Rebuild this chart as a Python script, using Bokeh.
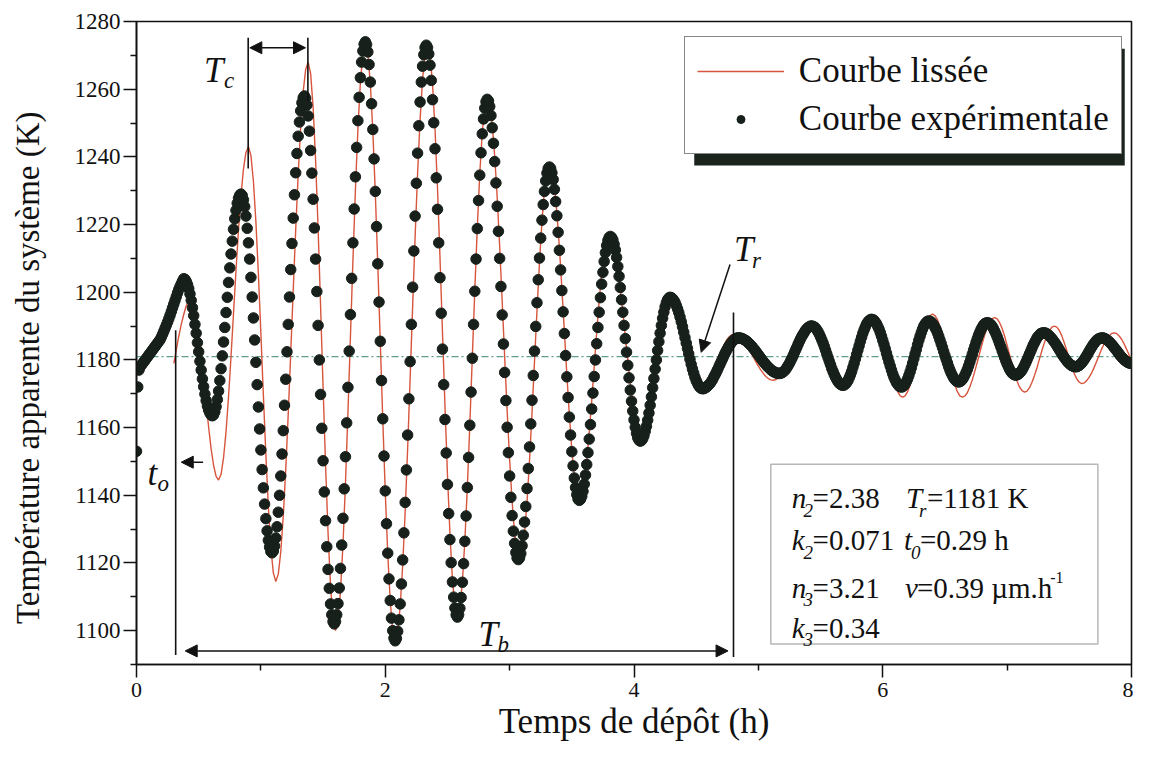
import numpy as np
from bokeh.plotting import figure
from bokeh.models import (Span, Label, Arrow, NormalHead, BoxAnnotation, Legend,
                          LegendItem, FixedTicker)
from bokeh.embed import file_html
from bokeh.resources import INLINE

# ---------------- data ----------------
# experimental points, one every 0.01 h from 0 to 8 h
exp_temp = [
    1153, 1172, 1177, 1178, 1178.5, 1179, 1179.5, 1180, 1180.5, 1181,
    1181.5, 1182, 1182.5, 1183, 1183.5, 1184, 1184.5, 1185, 1185.5, 1186,
    1186.8, 1187.6, 1188.5, 1189.4, 1190.3, 1191.2, 1192.2, 1193.2, 1194.3, 1195.4,
    1196.5, 1197.6, 1198.7, 1199.8, 1200.8, 1201.7, 1202.5, 1203.3, 1204.0,
    1203.8, 1203.2, 1202.3, 1201.1, 1199.5, 1197.6, 1195.4, 1193.1, 1190.5, 1187.9,
    1185.1, 1182.4, 1179.6, 1177.0, 1174.4, 1172.1, 1169.9, 1168.0, 1166.4, 1165.2,
    1164.3, 1163.7, 1163.5,
    1163.8, 1164.7, 1166.2, 1168.3, 1170.8, 1173.9, 1177.4, 1181.2, 1185.3, 1189.6,
    1194.0, 1198.5, 1202.9, 1207.2, 1211.3, 1215.1, 1218.6, 1221.7, 1224.2, 1226.3,
    1227.8, 1228.7, 1229,
    1228.6, 1227.3, 1225.3, 1222.5, 1218.9, 1214.6, 1209.8, 1204.4, 1198.6, 1192.4,
    1185.9, 1179.3, 1172.7, 1166.1, 1159.6, 1153.4, 1147.6, 1142.2, 1137.4, 1133.1,
    1129.5, 1126.7, 1124.7, 1123.4, 1123,
    1123.5, 1125.0, 1127.4, 1130.7, 1135.0, 1140.0, 1145.7, 1152.2, 1159.1, 1166.6,
    1174.3, 1182.4, 1190.5, 1198.6, 1206.7, 1214.4, 1221.9, 1228.8, 1235.3, 1241.0,
    1246.1, 1250.3, 1253.6, 1256.0, 1257.5, 1258,
    1257.3, 1255.3, 1252.1, 1247.6, 1241.9, 1235.2, 1227.5, 1219.0, 1209.8, 1200.2,
    1190.2, 1180.0, 1169.8, 1159.8, 1150.2, 1141.0, 1132.5, 1124.8, 1118.1, 1112.5,
    1107.9, 1104.7, 1102.7, 1102,
    1102.7, 1104.7, 1108.0, 1112.6, 1118.4, 1125.3, 1133.2, 1141.9, 1151.4, 1161.4,
    1171.9, 1182.6, 1193.4, 1204.1, 1214.6, 1224.6, 1234.1, 1242.8, 1250.7, 1257.6,
    1263.4, 1268.0, 1271.3, 1273.3, 1274,
    1273.2, 1271.0, 1267.3, 1262.1, 1255.7, 1248.1, 1239.4, 1229.8, 1219.4, 1208.4,
    1197.1, 1185.5, 1173.9, 1162.6, 1151.6, 1141.3, 1131.6, 1122.9, 1115.3, 1108.9,
    1103.7, 1100.0, 1097.8, 1097,
    1097.7, 1099.8, 1103.2, 1107.9, 1113.8, 1120.9, 1128.9, 1137.9, 1147.5, 1157.8,
    1168.5, 1179.5, 1190.5, 1201.5, 1212.2, 1222.5, 1232.2, 1241.1, 1249.2, 1256.2,
    1262.1, 1266.8, 1270.2, 1272.3, 1273,
    1272.3, 1270.4, 1267.1, 1262.6, 1256.9, 1250.1, 1242.4, 1233.8, 1224.5, 1214.6,
    1204.3, 1193.8, 1183.2, 1172.7, 1162.4, 1152.5, 1143.2, 1134.6, 1126.9, 1120.1,
    1114.4, 1109.9, 1106.7, 1104.7, 1104,
    1104.7, 1106.6, 1109.8, 1114.3, 1119.8, 1126.4, 1133.9, 1142.3, 1151.2, 1160.7,
    1170.5, 1180.5, 1190.5, 1200.3, 1209.8, 1218.8, 1227.1, 1234.6, 1241.2, 1246.8,
    1251.2, 1254.4, 1256.3, 1257,
    1256.5, 1254.9, 1252.2, 1248.6, 1244.0, 1238.6, 1232.3, 1225.4, 1218.0, 1210.0,
    1201.7, 1193.3, 1184.7, 1176.3, 1168.0, 1160.1, 1152.6, 1145.7, 1139.4, 1134.0,
    1129.4, 1125.8, 1123.1, 1121.5, 1121,
    1121.5, 1122.8, 1125.1, 1128.2, 1132.1, 1136.7, 1142.0, 1147.9, 1154.3, 1161.1,
    1168.1, 1175.4, 1182.6, 1189.9, 1196.9, 1203.7, 1210.1, 1216.0, 1221.3, 1225.9,
    1229.8, 1232.9, 1235.2, 1236.6, 1237,
    1236.6, 1235.3, 1233.3, 1230.4, 1226.8, 1222.6, 1217.7, 1212.4, 1206.6, 1200.5,
    1194.2, 1187.8, 1181.3, 1175.0, 1168.9, 1163.1, 1157.8, 1152.9, 1148.7, 1145.1,
    1142.3, 1140.2, 1138.9, 1138.5,
    1138.8, 1139.7, 1141.2, 1143.3, 1146.0, 1149.1, 1152.6, 1156.6, 1160.9, 1165.5,
    1170.2, 1175.1, 1180.0, 1184.8, 1189.6, 1194.1, 1198.4, 1202.4, 1205.9, 1209.1,
    1211.7, 1213.8, 1215.3, 1216.2, 1216.5,
    1216.2, 1215.5, 1214.2, 1212.5, 1210.3, 1207.6, 1204.7, 1201.4, 1197.8, 1194.1,
    1190.2, 1186.3, 1182.3, 1178.4, 1174.7, 1171.1, 1167.8, 1164.9, 1162.3, 1160.1,
    1158.3, 1157.0, 1156.3, 1156,
    1156.2, 1156.7, 1157.6, 1158.9, 1160.4, 1162.2, 1164.3, 1166.6, 1169.1, 1171.8,
    1174.5, 1177.3, 1180.0, 1182.8, 1185.4, 1187.9, 1190.2, 1192.3, 1194.1, 1195.7,
    1196.9, 1197.8, 1198.3, 1198.5,
    1198.4, 1198.1, 1197.6, 1197.0, 1196.1, 1195.1, 1194.0, 1192.7, 1191.3, 1189.8,
    1188.2, 1186.6, 1185.0, 1183.4, 1181.8, 1180.2, 1178.7, 1177.3, 1176.1, 1174.9,
    1173.9, 1173.1, 1172.4, 1171.9, 1171.6, 1171.5,
    1171.5, 1171.7, 1171.9, 1172.2, 1172.6, 1173.0, 1173.5, 1174.1, 1174.8, 1175.5,
    1176.2, 1177.0, 1177.8, 1178.6, 1179.4, 1180.2, 1181.0, 1181.8, 1182.5, 1183.2,
    1183.9, 1184.4, 1185.0, 1185.4, 1185.8, 1186.1, 1186.3, 1186.5, 1186.5,
    1186.5, 1186.4, 1186.3, 1186.1, 1185.9, 1185.7, 1185.4, 1185.0, 1184.7, 1184.3,
    1183.9, 1183.4, 1183.0, 1182.5, 1182.0, 1181.5, 1181.0, 1180.5, 1180.0, 1179.5,
    1179.1, 1178.6, 1178.2, 1177.8, 1177.5, 1177.1, 1176.8, 1176.6, 1176.4, 1176.2,
    1176.1, 1176.0, 1176,
    1176.1, 1176.2, 1176.5, 1176.8, 1177.2, 1177.8, 1178.4, 1179.0, 1179.8, 1180.5,
    1181.3, 1182.2, 1183.0, 1183.8, 1184.7, 1185.5, 1186.3, 1187.0, 1187.6, 1188.2,
    1188.8, 1189.2, 1189.6, 1189.8, 1190.0, 1190,
    1189.9, 1189.7, 1189.4, 1188.9, 1188.3, 1187.6, 1186.8, 1185.9, 1185.0, 1184.0,
    1182.9, 1181.8, 1180.7, 1179.6, 1178.6, 1177.5, 1176.6, 1175.7, 1174.9, 1174.2,
    1173.6, 1173.1, 1172.8, 1172.6, 1172.5,
    1172.6, 1172.9, 1173.3, 1173.9, 1174.7, 1175.6, 1176.6, 1177.8, 1179.0, 1180.3,
    1181.6, 1182.9, 1184.2, 1185.5, 1186.7, 1187.9, 1188.9, 1189.8, 1190.6, 1191.2,
    1191.6, 1191.9, 1192,
    1191.9, 1191.7, 1191.2, 1190.7, 1189.9, 1189.1, 1188.1, 1187.0, 1185.8, 1184.6,
    1183.3, 1182.0, 1180.7, 1179.4, 1178.2, 1177.0, 1175.9, 1174.9, 1174.1, 1173.3,
    1172.8, 1172.3, 1172.1, 1172,
    1172.1, 1172.4, 1172.9, 1173.6, 1174.4, 1175.4, 1176.5, 1177.7, 1179.0, 1180.4,
    1181.8, 1183.1, 1184.5, 1185.8, 1187.0, 1188.1, 1189.1, 1190.0, 1190.6, 1191.1,
    1191.4, 1191.5,
    1191.4, 1191.2, 1190.8, 1190.3, 1189.6, 1188.9, 1188.0, 1187.0, 1185.9, 1184.8,
    1183.7, 1182.5, 1181.3, 1180.2, 1179.1, 1178.0, 1177.0, 1176.1, 1175.4, 1174.7,
    1174.2, 1173.8, 1173.6, 1173.5,
    1173.6, 1173.8, 1174.2, 1174.8, 1175.5, 1176.3, 1177.2, 1178.2, 1179.3, 1180.5,
    1181.7, 1182.9, 1184.0, 1185.2, 1186.3, 1187.3, 1188.2, 1189.0, 1189.7, 1190.3,
    1190.7, 1190.9, 1191,
    1190.9, 1190.7, 1190.4, 1189.9, 1189.3, 1188.5, 1187.7, 1186.8, 1185.8, 1184.8,
    1183.8, 1182.7, 1181.7, 1180.7, 1179.7, 1178.8, 1178.0, 1177.2, 1176.6, 1176.1,
    1175.8, 1175.6, 1175.5,
    1175.6, 1175.8, 1176.1, 1176.5, 1177.0, 1177.7, 1178.4, 1179.2, 1180.0, 1180.9,
    1181.8, 1182.6, 1183.5, 1184.4, 1185.1, 1185.8, 1186.5, 1187.0, 1187.4, 1187.8,
    1187.9, 1188,
    1188.0, 1187.9, 1187.7, 1187.4, 1187.1, 1186.7, 1186.3, 1185.8, 1185.3, 1184.8,
    1184.2, 1183.6, 1183.0, 1182.4, 1181.8, 1181.2, 1180.7, 1180.2, 1179.7, 1179.3,
    1178.9, 1178.6, 1178.3, 1178.2, 1178.0, 1178,
    1178.0, 1178.2, 1178.4, 1178.7, 1179.1, 1179.6, 1180.1, 1180.7, 1181.3, 1181.9,
    1182.6, 1183.2, 1183.8, 1184.4, 1184.9, 1185.4, 1185.8, 1186.1, 1186.3, 1186.4,
    1186.5,
    1186.5, 1186.4, 1186.2, 1186.0, 1185.7, 1185.4, 1185.0, 1184.6, 1184.2, 1183.7,
    1183.2, 1182.8, 1182.3, 1181.8, 1181.3, 1180.9, 1180.5, 1180.1, 1179.8, 1179.5,
    1179.3, 1179.1, 1179.0, 1179,
]
exp_step = 0.01

# smoothed curve, one value every 0.02 h from 0.30 h to 8 h
fit_temp = [
    1179, 1183, 1187, 1190.5, 1193.5, 1196, 1197.5, 1198,
    1196.9, 1193.8, 1188.8, 1182.4, 1175.1, 1167.4, 1160.1, 1153.7, 1148.8, 1145.6, 1144.5,
    1146.2, 1151.1, 1158.9, 1169.1, 1181.0, 1193.8, 1206.5, 1218.4, 1228.6, 1236.4, 1241.3, 1243,
    1240.4, 1232.8, 1220.8, 1205.4, 1187.9, 1169.6, 1152.1, 1136.7, 1124.7, 1117.1, 1114.5,
    1116.7, 1123.3, 1133.8, 1147.7, 1164.0, 1182.0, 1200.5, 1218.5, 1234.8, 1248.7, 1259.2, 1265.8, 1268,
    1264.6, 1254.7, 1239.0, 1218.9, 1196.0, 1172.0, 1149.1, 1129.0, 1113.3, 1103.4, 1100,
    1103.0, 1111.6, 1125.4, 1143.4, 1164.3, 1186.8, 1209.2, 1230.1, 1248.1, 1261.9, 1270.6, 1273.5,
    1270.5, 1261.7, 1247.7, 1229.4, 1208.1, 1185.3, 1162.4, 1141.1, 1122.8, 1108.8, 1100.0, 1097,
    1099.6, 1107.1, 1119.1, 1135.0, 1153.8, 1174.4, 1195.6, 1216.2, 1235.0, 1250.9, 1262.9, 1270.4, 1273,
    1270.1, 1261.7, 1248.3, 1230.8, 1210.4, 1188.5, 1166.6, 1146.3, 1128.7, 1115.3, 1106.9, 1104,
    1106.6, 1114.3, 1126.5, 1142.4, 1160.9, 1180.8, 1200.6, 1219.1, 1235.0, 1247.2, 1254.9, 1257.5,
    1255.5, 1249.7, 1240.3, 1228.0, 1213.5, 1197.5, 1181.0, 1165.1, 1150.5, 1138.2, 1128.8, 1123.0, 1121,
    1123.0, 1128.8, 1138.1, 1150.3, 1164.4, 1179.5, 1194.6, 1208.8, 1220.9, 1230.2, 1236.0, 1238,
    1236.3, 1231.4, 1223.5, 1213.3, 1201.3, 1188.5, 1175.7, 1163.8, 1153.5, 1145.6, 1140.7, 1139,
    1140.3, 1144.2, 1150.4, 1158.5, 1167.9, 1178.0, 1188.1, 1197.5, 1205.6, 1211.8, 1215.7, 1217,
    1216.1, 1213.6, 1209.5, 1204.0, 1197.6, 1190.6, 1183.4, 1176.4, 1170.0, 1164.5, 1160.4, 1157.9, 1157,
    1157.7, 1159.8, 1163.1, 1167.5, 1172.6, 1178.0, 1183.4, 1188.5, 1192.9, 1196.2, 1198.3, 1199,
    1198.5, 1197.2, 1195.0, 1192.3, 1189.0, 1185.5, 1182.0, 1178.8, 1176.0, 1173.8, 1172.5, 1172,
    1172.2, 1172.9, 1174.0, 1175.3, 1177.0, 1178.8, 1180.7, 1182.5, 1184.2, 1185.6, 1186.6, 1187.3, 1187.5,
    1187.4, 1187.0, 1186.4, 1185.5, 1184.5, 1183.3, 1182.1, 1180.8, 1179.4, 1178.2, 1177.0, 1176.0,
    1175.1, 1174.5, 1174.1, 1174,
    1174.2, 1174.7, 1175.6, 1176.7, 1178.1, 1179.7, 1181.4, 1183.1, 1184.8, 1186.4, 1187.8, 1188.9,
    1189.8, 1190.3, 1190.5,
    1190.2, 1189.4, 1188.1, 1186.3, 1184.2, 1181.9, 1179.6, 1177.3, 1175.2, 1173.5, 1172.1, 1171.3, 1171,
    1171.4, 1172.4, 1174.2, 1176.4, 1179.0, 1181.8, 1184.5, 1187.1, 1189.4, 1191.1, 1192.1, 1192.5,
    1192.1, 1190.9, 1189.1, 1186.6, 1183.8, 1180.8, 1177.7, 1174.9, 1172.4, 1170.6, 1169.4, 1169,
    1169.4, 1170.6, 1172.6, 1175.1, 1178.1, 1181.3, 1184.4, 1187.4, 1189.9, 1191.9, 1193.1, 1193.5,
    1193.1, 1191.9, 1189.9, 1187.4, 1184.4, 1181.3, 1178.1, 1175.1, 1172.6, 1170.6, 1169.4, 1169,
    1169.3, 1170.3, 1172.0, 1174.1, 1176.6, 1179.3, 1182.2, 1184.9, 1187.4, 1189.5, 1191.2, 1192.2, 1192.5,
    1192.1, 1191.0, 1189.3, 1187.0, 1184.3, 1181.5, 1178.7, 1176.0, 1173.7, 1172.0, 1170.9, 1170.5,
    1170.8, 1171.8, 1173.4, 1175.4, 1177.7, 1180.3, 1182.8, 1185.1, 1187.2, 1188.7, 1189.7, 1190,
    1189.7, 1188.7, 1187.1, 1185.0, 1182.7, 1180.3, 1178.0, 1175.9, 1174.4, 1173.4, 1173,
    1173.2, 1173.9, 1174.9, 1176.2, 1177.8, 1179.6, 1181.4, 1183.2, 1184.8, 1186.1, 1187.1, 1187.8, 1188,
    1187.8, 1187.1, 1186.1, 1184.8, 1183.2, 1181.5, 1179.8,
]
fit_start = 0.30
fit_step = 0.02

exp_time = np.round(np.arange(len(exp_temp)) * exp_step, 2)
fit_time = np.round(fit_start + np.arange(len(fit_temp)) * fit_step, 2)

x_ticks = [0, 2, 4, 6, 8]
x_minor = [1, 3, 5, 7]
y_ticks = [1100, 1120, 1140, 1160, 1180, 1200, 1220, 1240, 1260, 1280]
y_minor = [1090, 1110, 1130, 1150, 1170, 1190, 1210, 1230, 1250, 1270]

t_r = 1181          # T_r (K)
t_zero = 0.315      # t_o marker line (h)
t_b_end = 4.80      # end of T_b (h)
t_c_start = 0.898   # T_c markers (h)
t_c_end = 1.378

SERIF = "Liberation Serif"
BLACK = "#111111"

FRAME_W, FRAME_H = 995, 643
X0, X1, Y0, Y1 = 0, 8, 1090, 1280


# reference-picture pixel -> data helpers (for decorations only)
def tx(px):
    return (px - 136) / 125.1


def ty(py):
    return 1280 - (py - 20.7) / 3.389


p = figure(frame_width=FRAME_W, frame_height=FRAME_H, x_range=(X0, X1), y_range=(Y0, Y1),
           output_backend="svg", toolbar_location=None,
           min_border_left=136, min_border_right=2, min_border_top=21, min_border_bottom=90,
           background_fill_color="white", border_fill_color="white")
p.grid.visible = False
p.outline_line_color = BLACK
p.outline_line_width = 1.6

for ax in (p.xaxis[0], p.yaxis[0]):
    ax.axis_line_width = 1.6
    ax.axis_line_color = BLACK
    ax.major_tick_out = 13
    ax.major_tick_in = 0
    ax.minor_tick_out = 6
    ax.minor_tick_in = 0
    ax.major_tick_line_width = 1.5
    ax.minor_tick_line_width = 1.5
    ax.major_tick_line_color = BLACK
    ax.minor_tick_line_color = BLACK
    ax.major_label_text_font = SERIF
    ax.major_label_text_color = BLACK
    ax.axis_label_text_font = SERIF
    ax.axis_label_text_font_style = "normal"
    ax.axis_label_text_color = BLACK
p.xaxis.ticker = FixedTicker(ticks=x_ticks, minor_ticks=x_minor)
p.yaxis.ticker = FixedTicker(ticks=y_ticks, minor_ticks=y_minor)
p.xaxis.major_label_text_font_size = "22px"
p.yaxis.major_label_text_font_size = "23px"
p.xaxis.major_label_standoff = 5
p.yaxis.major_label_standoff = 3
p.xaxis.axis_label = "Temps de d\u00e9p\u00f4t (h)"
p.xaxis.axis_label_text_font_size = "35px"
p.xaxis.axis_label_standoff = 2
p.yaxis.axis_label = "Temp\u00e9rature apparente du syst\u00e8me (K)" + "\u00a0" * 6
p.yaxis.axis_label_text_font_size = "33px"
p.yaxis.axis_label_standoff = 26

# reference temperature line (under the data)
p.add_layout(Span(location=t_r, dimension="width", line_color="#5f9e8e",
                  line_width=1.3, line_dash="7 3 2 3", level="underlay"))

r_fit = p.line(fit_time, fit_temp, line_color="#d8553d", line_width=1.4)
r_exp = p.scatter(exp_time, exp_temp, size=10.5, marker="circle",
                  fill_color="#17201a", line_color="#17201a")
# legend proxy (smaller dot, as in the legend of the picture); never visible in the plot
r_leg = p.scatter(x=[float("nan")], y=[float("nan")], size=7, marker="circle",
                  fill_color="#17201a", line_color="#17201a")


# marker lines
def vline(x, y0, y1):
    p.add_layout(Arrow(x_start=x, y_start=y0, x_end=x, y_end=y1, end=None,
                       line_color=BLACK, line_width=1.6))


vline(t_zero, ty(655), ty(330))
vline(t_b_end, ty(657), ty(312))
vline(t_c_start, ty(168), ty(37))
vline(t_c_end, ty(100), ty(37))


def head():
    return NormalHead(size=12, fill_color=BLACK, line_color=BLACK, line_width=1)


p.add_layout(Arrow(x_start=tx(250), y_start=ty(47), x_end=tx(306), y_end=ty(47),
                   start=head(), end=head(), line_color=BLACK, line_width=1.5))
p.add_layout(Arrow(x_start=tx(185), y_start=ty(651), x_end=tx(731), y_end=ty(651),
                   start=head(), end=head(), line_color=BLACK, line_width=1.5))
p.add_layout(Arrow(x_start=tx(203), y_start=ty(462), x_end=tx(181), y_end=ty(462),
                   end=head(), line_color=BLACK, line_width=1.5))
p.add_layout(Arrow(x_start=tx(733), y_start=ty(264), x_end=tx(704), y_end=ty(352),
                   end=head(), line_color=BLACK, line_width=1.5))


def txt(s, px, py, size, italic=False, color=BLACK, align="left"):
    p.add_layout(Label(x=tx(px), y=ty(py), text=s, text_font=SERIF,
                       text_font_size=f"{size}px",
                       text_font_style="italic" if italic else "normal",
                       text_color=color, text_align=align, text_baseline="alphabetic"))


# symbols
txt("T", 204, 70, 35, True); txt("c", 224, 80, 23, True)
txt("t", 147, 473, 35, True); txt("o", 157, 483, 23, True)
txt("T", 480, 635, 35, True); txt("b", 499, 645, 23, True)
txt("T", 737, 249, 35, True); txt("r", 755, 260, 23, True)

# parameter box
p.add_layout(BoxAnnotation(left=tx(774), right=tx(1103), top=ty(464), bottom=ty(644),
                           fill_color="white", fill_alpha=1.0, line_color=BLACK,
                           line_width=1.5))
rows = [(498, "n", "2", "=2.38"), (540, "k", "2", "=0.071"),
        (588, "n", "3", "=3.21"), (628, "k", "3", "=0.34")]
for base, sym, sub, val in rows:
    txt(sym, 795, base, 29, True)
    txt(sub, 807, base + 12, 19, True)
    txt(val, 816, base, 29)
txt("T", 910, 498, 29, True); txt("r", 923, 510, 19, True); txt("=1181 K", 931, 498, 29)
txt("t", 908, 540, 29, True); txt("0", 915, 552, 19, True); txt("=0.29 h", 924, 540, 29)
txt("v", 909, 588, 29, True); txt("=0.39 \u00b5m.h", 921, 588, 29)
txt("-1", 1055, 577, 16)

# legend with shadow
p.add_layout(BoxAnnotation(left=tx(697), right=tx(1130), top=ty(48), bottom=ty(165),
                           fill_color="#1b231d", fill_alpha=1.0, line_color=None))
leg_x = tx(687) * FRAME_W / (X1 - X0)
leg_top = (ty(38) - Y0) * FRAME_H / (Y1 - Y0)
legend = Legend(items=[LegendItem(label="Courbe liss\u00e9e", renderers=[r_fit]),
                       LegendItem(label="Courbe exp\u00e9rimentale", renderers=[r_leg])],
                location=(leg_x, leg_top - 116), orientation="vertical",
                label_text_font=SERIF, label_text_font_size="35px",
                label_text_color=BLACK,
                glyph_width=87, glyph_height=20, label_height=44, spacing=4,
                padding=12, margin=0, label_standoff=15,
                border_line_color=BLACK, border_line_width=1.5,
                background_fill_color="white", background_fill_alpha=1.0)
p.add_layout(legend)

open("out.html", "w").write(file_html(p, INLINE))
